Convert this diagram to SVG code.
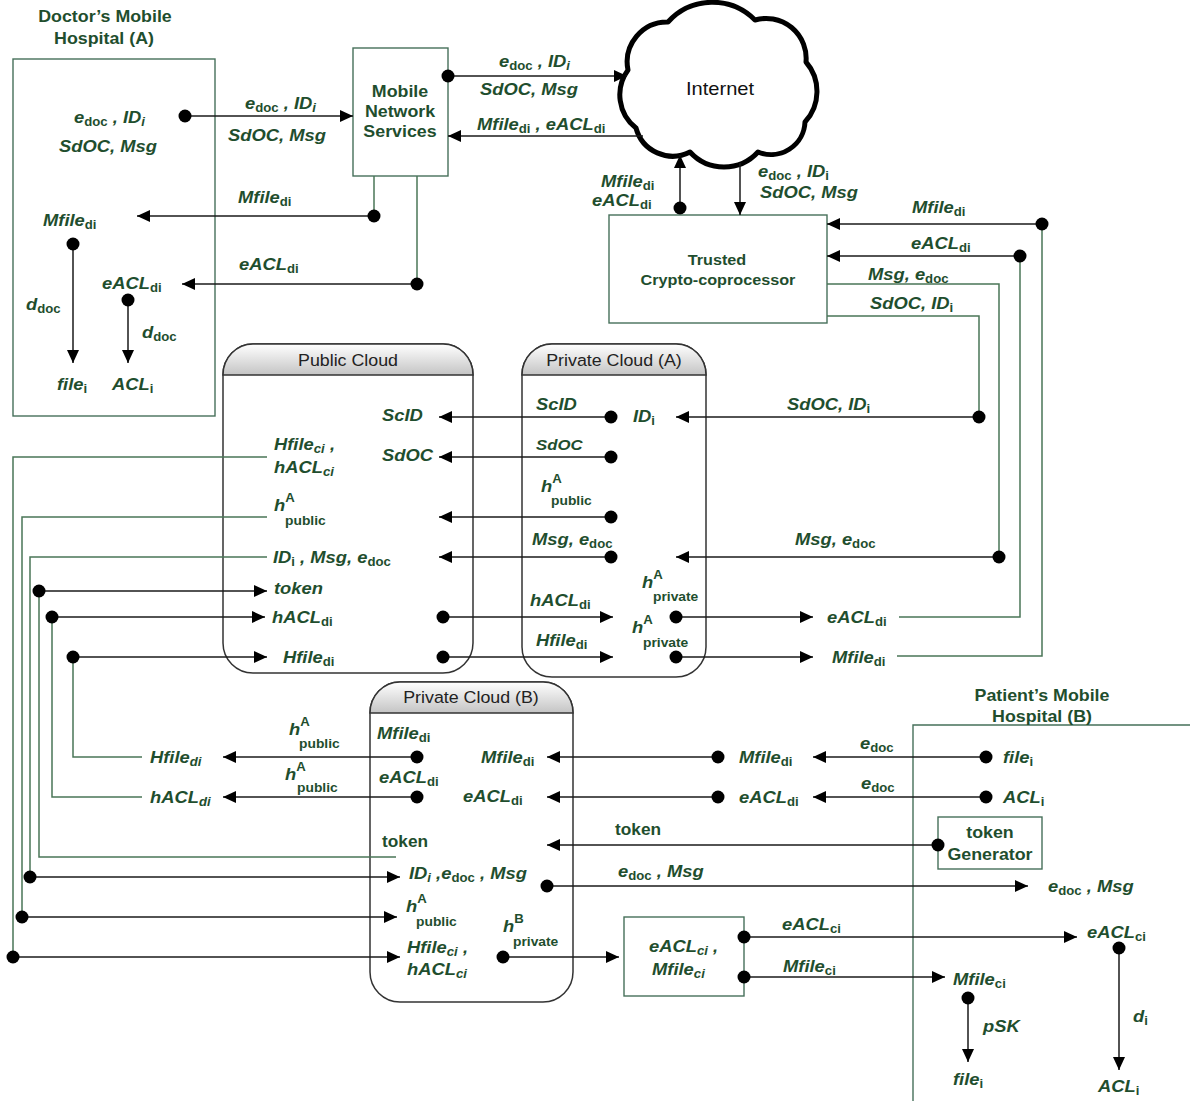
<svg xmlns="http://www.w3.org/2000/svg" width="1190" height="1101" viewBox="0 0 1190 1101">
  <style>
    .bx { fill: #ffffff; stroke: #46705a; stroke-width: 1.4; }
    .cl { fill: #ffffff; stroke: #333333; stroke-width: 1.5; }
    .ar { fill: none; stroke: #1a1a1a; stroke-width: 1.5; marker-end: url(#ah); }
    .ln { fill: none; stroke: #1a1a1a; stroke-width: 1.5; }
    .gr { fill: none; stroke: #4a7657; stroke-width: 1.5; }
    .dot { fill: #000000; }
    .lb { font-family: "Liberation Sans", Arial, Helvetica, sans-serif; font-weight: bold; font-style: italic; font-size: 17px; fill: #1f4e2e; }
    .up { font-style: normal; }
    .sb { font-size: 12.2px; font-style: normal; }
    .sbi { font-size: 12.2px; font-style: italic; }
    .sm { font-size: 12.8px; font-style: normal; }
    .ttl { font-family: "Liberation Sans", Arial, Helvetica, sans-serif; font-weight: bold; font-size: 16.5px; fill: #1f4e2e; text-anchor: middle; }
    .hdr { font-family: "Liberation Sans", Arial, Helvetica, sans-serif; font-size: 16.5px; fill: #222222; text-anchor: middle; }
    .net { font-family: "Liberation Sans", Arial, Helvetica, sans-serif; font-size: 18.6px; fill: #111111; text-anchor: middle; }
  </style>
  <defs>
    <marker id="ah" markerUnits="userSpaceOnUse" markerWidth="14" markerHeight="12" refX="13" refY="6" orient="auto">
      <path d="M0,0 L13,6 L0,12 Z" fill="#000000"/>
    </marker>
    <linearGradient id="hg" x1="0" y1="0" x2="0" y2="1">
      <stop offset="0" stop-color="#ffffff"/>
      <stop offset="1" stop-color="#c4c4c4"/>
    </linearGradient>
  </defs>

  <!-- nodes -->
  <g id="doctor-hospital">
    <rect class="bx" x="13" y="59" width="202" height="357"/>
    <text class="ttl" transform="matrix(1.08 0 0 1 105 22)">Doctor’s Mobile</text>
    <text class="ttl" transform="matrix(1.08 0 0 1 104 44)">Hospital (A)</text>
  </g>
  <g id="mobile-network">
    <rect class="bx" x="353" y="48" width="95" height="128"/>
    <text class="ttl" transform="matrix(1.08 0 0 1 400 97)">Mobile</text>
    <text class="ttl" transform="matrix(1.08 0 0 1 400 117)">Network</text>
    <text class="ttl" transform="matrix(1.08 0 0 1 400 137)">Services</text>
  </g>
  <g id="internet">
    <path d="M636,128 A42,42 0 0 1 628,70 A40,40 0 0 1 668,22 A60,60 0 0 1 755,20 A40,40 0 0 1 806,62 A45,45 0 0 1 805,122 A34,34 0 0 1 758,152 A46,46 0 0 1 690,152 A38,38 0 0 1 636,128 Z" fill="#ffffff" stroke="#000000" stroke-width="5" stroke-linejoin="round"/>
    <text class="net" transform="matrix(1.08 0 0 1 720 95)">Internet</text>
  </g>
  <g id="trusted-coprocessor">
    <rect class="bx" x="609" y="215" width="218" height="108"/>
    <text class="ttl" transform="matrix(1.08 0 0 1 717 265)" style="font-size:15px">Trusted</text>
    <text class="ttl" transform="matrix(1.08 0 0 1 718 285)" style="font-size:15px">Crypto-coprocessor</text>
  </g>
  <g id="public-cloud">
    <path class="cl" d="M223,375 A30,31 0 0 1 253,344 H443 A30,31 0 0 1 473,375 V643 A30,30 0 0 1 443,673 H253 A30,30 0 0 1 223,643 Z"/>
    <path class="cl" style="fill:url(#hg)" d="M223,375 A30,31 0 0 1 253,344 H443 A30,31 0 0 1 473,375 Z"/>
    <text class="hdr" transform="matrix(1.08 0 0 1 348 366)">Public Cloud</text>
  </g>
  <g id="private-cloud-a">
    <path class="cl" d="M522,375 A30,31 0 0 1 552,344 H676 A30,31 0 0 1 706,375 V647 A30,30 0 0 1 676,677 H552 A30,30 0 0 1 522,647 Z"/>
    <path class="cl" style="fill:url(#hg)" d="M522,375 A30,31 0 0 1 552,344 H676 A30,31 0 0 1 706,375 Z"/>
    <text class="hdr" transform="matrix(1.08 0 0 1 614 366)">Private Cloud (A)</text>
  </g>
  <g id="private-cloud-b">
    <path class="cl" d="M370,713 A30,31 0 0 1 400,682 H543 A30,31 0 0 1 573,713 V972 A30,30 0 0 1 543,1002 H400 A30,30 0 0 1 370,972 Z"/>
    <path class="cl" style="fill:url(#hg)" d="M370,713 A30,31 0 0 1 400,682 H543 A30,31 0 0 1 573,713 Z"/>
    <text class="hdr" transform="matrix(1.08 0 0 1 471 703)">Private Cloud (B)</text>
  </g>
  <g id="result-box">
    <rect class="bx" x="624" y="917" width="120" height="79"/>
  </g>
  <g id="patient-hospital">
    <path class="bx" style="fill:none" d="M1190,725 H913 V1101"/>
    <text class="ttl" transform="matrix(1.08 0 0 1 1042 701)">Patient’s Mobile</text>
    <text class="ttl" transform="matrix(1.08 0 0 1 1042 722)">Hospital (B)</text>
  </g>
  <g id="token-generator">
    <rect class="bx" x="938" y="817" width="104" height="52"/>
    <text class="ttl" transform="matrix(1.08 0 0 1 990 838)">token</text>
    <text class="ttl" transform="matrix(1.08 0 0 1 990 860)">Generator</text>
  </g>

  <!-- connectors -->
  <g id="connectors">
    <!-- doctor side -->
    <line class="ar" x1="185" y1="116" x2="353" y2="116"/>
    <line class="ar" x1="448" y1="76" x2="627" y2="76"/>
    <line class="ar" x1="643" y1="136" x2="448" y2="136"/>
    <line class="gr" x1="374" y1="176" x2="374" y2="216"/>
    <line class="ar" x1="374" y1="216" x2="137" y2="216"/>
    <line class="gr" x1="417" y1="176" x2="417" y2="284"/>
    <line class="ar" x1="417" y1="284" x2="182" y2="284"/>
    <line class="ar" x1="73" y1="244" x2="73" y2="363"/>
    <line class="ar" x1="128" y1="300" x2="128" y2="363"/>
    <!-- internet and coprocessor -->
    <line class="ar" x1="680" y1="208" x2="680" y2="155"/>
    <line class="ar" x1="740" y1="163" x2="740" y2="215"/>
    <line class="ar" x1="1042" y1="224" x2="827" y2="224"/>
    <polyline class="gr" points="1042,224 1042,656 897,656"/>
    <line class="ar" x1="1020" y1="256" x2="827" y2="256"/>
    <polyline class="gr" points="1020,256 1020,617 899,617"/>
    <polyline class="gr" points="827,284 999,284 999,557"/>
    <line class="ar" x1="999" y1="557" x2="676" y2="557"/>
    <polyline class="gr" points="827,316 979,316 979,417"/>
    <line class="ar" x1="979" y1="417" x2="676" y2="417"/>
    <!-- private cloud A to public cloud -->
    <line class="ar" x1="611" y1="417" x2="439" y2="417"/>
    <line class="ar" x1="611" y1="457" x2="439" y2="457"/>
    <line class="ar" x1="611" y1="517" x2="439" y2="517"/>
    <line class="ar" x1="611" y1="557" x2="439" y2="557"/>
    <line class="ar" x1="443" y1="617" x2="613" y2="617"/>
    <line class="ar" x1="443" y1="657" x2="613" y2="657"/>
    <line class="ar" x1="676" y1="617" x2="813" y2="617"/>
    <line class="ar" x1="676" y1="657" x2="813" y2="657"/>
    <!-- left bus -->
    <polyline class="gr" points="267,457 13,457 13,957"/>
    <line class="ar" x1="13" y1="957" x2="400" y2="957"/>
    <polyline class="gr" points="267,517 22,517 22,917"/>
    <line class="ar" x1="22" y1="917" x2="397" y2="917"/>
    <polyline class="gr" points="267,557 30,557 30,877"/>
    <line class="ar" x1="30" y1="877" x2="400" y2="877"/>
    <line class="ar" x1="39" y1="591" x2="267" y2="591"/>
    <polyline class="gr" points="39,591 39,857 396,857"/>
    <line class="ar" x1="52" y1="617" x2="265" y2="617"/>
    <polyline class="gr" points="52,617 52,797 142,797"/>
    <line class="ar" x1="73" y1="657" x2="267" y2="657"/>
    <polyline class="gr" points="73,657 73,757 142,757"/>
    <!-- private cloud B and patient side -->
    <line class="ar" x1="417" y1="757" x2="223" y2="757"/>
    <line class="ar" x1="417" y1="797" x2="223" y2="797"/>
    <line class="ar" x1="718" y1="757" x2="547" y2="757"/>
    <line class="ar" x1="718" y1="797" x2="547" y2="797"/>
    <line class="ar" x1="986" y1="757" x2="813" y2="757"/>
    <line class="ar" x1="986" y1="797" x2="813" y2="797"/>
    <line class="ar" x1="938" y1="845" x2="547" y2="845"/>
    <line class="ar" x1="547" y1="886" x2="1028" y2="886"/>
    <line class="ar" x1="503" y1="957" x2="619" y2="957"/>
    <line class="ar" x1="744" y1="937" x2="1077" y2="937"/>
    <line class="ar" x1="744" y1="977" x2="945" y2="977"/>
    <line class="ar" x1="1119" y1="948" x2="1119" y2="1070"/>
    <line class="ar" x1="968" y1="998" x2="968" y2="1062"/>
    <!-- junction dots -->
    <circle class="dot" cx="185" cy="116" r="6.5"/>
    <circle class="dot" cx="448" cy="76" r="6.5"/>
    <circle class="dot" cx="374" cy="216" r="6.5"/>
    <circle class="dot" cx="417" cy="284" r="6.5"/>
    <circle class="dot" cx="73" cy="244" r="6.5"/>
    <circle class="dot" cx="128" cy="300" r="6.5"/>
    <circle class="dot" cx="680" cy="208" r="6.5"/>
    <circle class="dot" cx="1042" cy="224" r="6.5"/>
    <circle class="dot" cx="1020" cy="256" r="6.5"/>
    <circle class="dot" cx="999" cy="557" r="6.5"/>
    <circle class="dot" cx="979" cy="417" r="6.5"/>
    <circle class="dot" cx="611" cy="417" r="6.5"/>
    <circle class="dot" cx="611" cy="457" r="6.5"/>
    <circle class="dot" cx="611" cy="517" r="6.5"/>
    <circle class="dot" cx="611" cy="557" r="6.5"/>
    <circle class="dot" cx="443" cy="617" r="6.5"/>
    <circle class="dot" cx="443" cy="657" r="6.5"/>
    <circle class="dot" cx="676" cy="617" r="6.5"/>
    <circle class="dot" cx="676" cy="657" r="6.5"/>
    <circle class="dot" cx="13" cy="957" r="6.5"/>
    <circle class="dot" cx="22" cy="917" r="6.5"/>
    <circle class="dot" cx="30" cy="877" r="6.5"/>
    <circle class="dot" cx="39" cy="591" r="6.5"/>
    <circle class="dot" cx="52" cy="617" r="6.5"/>
    <circle class="dot" cx="73" cy="657" r="6.5"/>
    <circle class="dot" cx="417" cy="757" r="6.5"/>
    <circle class="dot" cx="417" cy="797" r="6.5"/>
    <circle class="dot" cx="718" cy="757" r="6.5"/>
    <circle class="dot" cx="718" cy="797" r="6.5"/>
    <circle class="dot" cx="986" cy="757" r="6.5"/>
    <circle class="dot" cx="986" cy="797" r="6.5"/>
    <circle class="dot" cx="938" cy="845" r="6.5"/>
    <circle class="dot" cx="547" cy="886" r="6.5"/>
    <circle class="dot" cx="503" cy="957" r="6.5"/>
    <circle class="dot" cx="744" cy="937" r="6.5"/>
    <circle class="dot" cx="744" cy="977" r="6.5"/>
    <circle class="dot" cx="1119" cy="948" r="6.5"/>
    <circle class="dot" cx="968" cy="998" r="6.5"/>
  </g>

  <!-- labels -->
  <g id="labels">
    <!-- doctor box -->
    <text class="lb" transform="matrix(1.08 0 0 1 74 123)">e<tspan class="sb" dy="3">doc</tspan><tspan dy="-3"> , ID</tspan><tspan class="sbi" dy="3">i</tspan></text>
    <text class="lb" transform="matrix(1.08 0 0 1 59 152)">SdOC, Msg</text>
    <text class="lb" transform="matrix(1.08 0 0 1 43 226)">Mfile<tspan class="sb" dy="3">di</tspan></text>
    <text class="lb" transform="matrix(1.08 0 0 1 102 289)">eACL<tspan class="sb" dy="3">di</tspan></text>
    <text class="lb" transform="matrix(1.08 0 0 1 26 310)">d<tspan class="sb" dy="3">doc</tspan></text>
    <text class="lb" transform="matrix(1.08 0 0 1 142 338)">d<tspan class="sb" dy="3">doc</tspan></text>
    <text class="lb" transform="matrix(1.08 0 0 1 57 390)">file<tspan class="sb" dy="3">i</tspan></text>
    <text class="lb" transform="matrix(1.08 0 0 1 112 390)">ACL<tspan class="sb" dy="3">i</tspan></text>
    <!-- doctor to network -->
    <text class="lb" transform="matrix(1.08 0 0 1 245 109)">e<tspan class="sb" dy="3">doc</tspan><tspan dy="-3"> , ID</tspan><tspan class="sbi" dy="3">i</tspan></text>
    <text class="lb" transform="matrix(1.08 0 0 1 228 141)">SdOC, Msg</text>
    <text class="lb" transform="matrix(1.08 0 0 1 238 203)">Mfile<tspan class="sb" dy="3">di</tspan></text>
    <text class="lb" transform="matrix(1.08 0 0 1 239 270)">eACL<tspan class="sb" dy="3">di</tspan></text>
    <!-- network to internet -->
    <text class="lb" transform="matrix(1.08 0 0 1 499 67)">e<tspan class="sb" dy="3">doc</tspan><tspan dy="-3"> , ID</tspan><tspan class="sbi" dy="3">i</tspan></text>
    <text class="lb" transform="matrix(1.08 0 0 1 480 95)">SdOC, Msg</text>
    <text class="lb" transform="matrix(1.08 0 0 1 477 130)">Mfile<tspan class="sb" dy="3">di</tspan><tspan dy="-3">  , eACL</tspan><tspan class="sb" dy="3">di</tspan></text>
    <!-- internet to coprocessor -->
    <text class="lb" transform="matrix(1.08 0 0 1 601 187)">Mfile<tspan class="sb" dy="3">di</tspan></text>
    <text class="lb" transform="matrix(1.08 0 0 1 592 206)">eACL<tspan class="sb" dy="3">di</tspan></text>
    <text class="lb" transform="matrix(1.08 0 0 1 758 177)">e<tspan class="sb" dy="3">doc</tspan><tspan dy="-3"> , ID</tspan><tspan class="sb" dy="3">i</tspan></text>
    <text class="lb" transform="matrix(1.08 0 0 1 760 198)">SdOC, Msg</text>
    <!-- coprocessor right side -->
    <text class="lb" transform="matrix(1.08 0 0 1 912 213)">Mfile<tspan class="sb" dy="3">di</tspan></text>
    <text class="lb" transform="matrix(1.08 0 0 1 911 249)">eACL<tspan class="sb" dy="3">di</tspan></text>
    <text class="lb" transform="matrix(1.08 0 0 1 868 280)">Msg, e<tspan class="sb" dy="3">doc</tspan></text>
    <text class="lb" transform="matrix(1.08 0 0 1 870 309)">SdOC, ID<tspan class="sb" dy="3">i</tspan></text>
    <!-- public cloud -->
    <text class="lb" transform="matrix(1.08 0 0 1 382 421)">ScID</text>
    <text class="lb" transform="matrix(1.08 0 0 1 382 461)">SdOC</text>
    <text class="lb" transform="matrix(1.08 0 0 1 274 450)">Hfile<tspan class="sbi" dy="3">ci</tspan><tspan dy="-3"> ,</tspan></text>
    <text class="lb" transform="matrix(1.08 0 0 1 274 473)">hACL<tspan class="sbi" dy="3">ci</tspan></text>
    <text class="lb" transform="matrix(1.08 0 0 1 274 511)">h<tspan class="sb" dy="-9">A</tspan></text>
    <text class="lb sm" transform="matrix(1.08 0 0 1 285 525)">public</text>
    <text class="lb" transform="matrix(1.08 0 0 1 273 563)">ID<tspan class="sb" dy="3">i</tspan><tspan dy="-3"> , Msg, e</tspan><tspan class="sb" dy="3">doc</tspan></text>
    <text class="lb" transform="matrix(1.08 0 0 1 274 594)">token</text>
    <text class="lb" transform="matrix(1.08 0 0 1 272 623)">hACL<tspan class="sb" dy="3">di</tspan></text>
    <text class="lb" transform="matrix(1.08 0 0 1 283 663)">Hfile<tspan class="sb" dy="3">di</tspan></text>
    <!-- private cloud A -->
    <text class="lb" transform="matrix(1.08 0 0 1 536 410)">ScID</text>
    <text class="lb" transform="matrix(1.08 0 0 1 633 422)">ID<tspan class="sb" dy="3">i</tspan></text>
    <text class="lb" transform="matrix(1.08 0 0 1 536 450)" style="font-size:15.5px">SdOC</text>
    <text class="lb" transform="matrix(1.08 0 0 1 541 492)">h<tspan class="sb" dy="-9">A</tspan></text>
    <text class="lb sm" transform="matrix(1.08 0 0 1 551 505)">public</text>
    <text class="lb" transform="matrix(1.08 0 0 1 532 545)">Msg, e<tspan class="sb" dy="3">doc</tspan></text>
    <text class="lb" transform="matrix(1.08 0 0 1 642 588)">h<tspan class="sb" dy="-9">A</tspan></text>
    <text class="lb sm" transform="matrix(1.08 0 0 1 653 601)">private</text>
    <text class="lb" transform="matrix(1.08 0 0 1 530 606)">hACL<tspan class="sb" dy="3">di</tspan></text>
    <text class="lb" transform="matrix(1.08 0 0 1 632 633)">h<tspan class="sb" dy="-9">A</tspan></text>
    <text class="lb sm" transform="matrix(1.08 0 0 1 643 647)">private</text>
    <text class="lb" transform="matrix(1.08 0 0 1 536 646)">Hfile<tspan class="sb" dy="3">di</tspan></text>
    <!-- right of private cloud A -->
    <text class="lb" transform="matrix(1.08 0 0 1 787 410)">SdOC, ID<tspan class="sb" dy="3">i</tspan></text>
    <text class="lb" transform="matrix(1.08 0 0 1 795 545)">Msg, e<tspan class="sb" dy="3">doc</tspan></text>
    <text class="lb" transform="matrix(1.08 0 0 1 827 623)">eACL<tspan class="sb" dy="3">di</tspan></text>
    <text class="lb" transform="matrix(1.08 0 0 1 832 663)">Mfile<tspan class="sb" dy="3">di</tspan></text>
    <!-- lower left -->
    <text class="lb" transform="matrix(1.08 0 0 1 289 735)">h<tspan class="sb" dy="-9">A</tspan></text>
    <text class="lb sm" transform="matrix(1.08 0 0 1 299 748)">public</text>
    <text class="lb" transform="matrix(1.08 0 0 1 150 763)">Hfile<tspan class="sbi" dy="3">di</tspan></text>
    <text class="lb" transform="matrix(1.08 0 0 1 285 780)">h<tspan class="sb" dy="-9">A</tspan></text>
    <text class="lb sm" transform="matrix(1.08 0 0 1 297 792)">public</text>
    <text class="lb" transform="matrix(1.08 0 0 1 150 803)">hACL<tspan class="sbi" dy="3">di</tspan></text>
    <!-- private cloud B -->
    <text class="lb" transform="matrix(1.08 0 0 1 377 739)">Mfile<tspan class="sb" dy="3">di</tspan></text>
    <text class="lb" transform="matrix(1.08 0 0 1 379 783)">eACL<tspan class="sb" dy="3">di</tspan></text>
    <text class="lb" transform="matrix(1.08 0 0 1 481 763)">Mfile<tspan class="sb" dy="3">di</tspan></text>
    <text class="lb" transform="matrix(1.08 0 0 1 463 802)">eACL<tspan class="sb" dy="3">di</tspan></text>
    <text class="lb up" transform="matrix(1.08 0 0 1 382 847)" style="font-size:16px">token</text>
    <text class="lb" transform="matrix(1.08 0 0 1 409 879)">ID<tspan class="sbi" dy="3">i</tspan><tspan dy="-3"> ,e</tspan><tspan class="sb" dy="3">doc</tspan><tspan dy="-3"> , Msg</tspan></text>
    <text class="lb" transform="matrix(1.08 0 0 1 406 912)">h<tspan class="sb" dy="-9">A</tspan></text>
    <text class="lb sm" transform="matrix(1.08 0 0 1 416 926)">public</text>
    <text class="lb" transform="matrix(1.08 0 0 1 503 932)">h<tspan class="sb" dy="-9">B</tspan></text>
    <text class="lb sm" transform="matrix(1.08 0 0 1 513 946)">private</text>
    <text class="lb" transform="matrix(1.08 0 0 1 407 953)">Hfile<tspan class="sbi" dy="3">ci</tspan><tspan dy="-3"> ,</tspan></text>
    <text class="lb" transform="matrix(1.08 0 0 1 407 975)">hACL<tspan class="sbi" dy="3">ci</tspan></text>
    <!-- middle bottom -->
    <text class="lb" transform="matrix(1.08 0 0 1 739 763)">Mfile<tspan class="sb" dy="3">di</tspan></text>
    <text class="lb" transform="matrix(1.08 0 0 1 739 803)">eACL<tspan class="sb" dy="3">di</tspan></text>
    <text class="lb" transform="matrix(1.08 0 0 1 860 749)">e<tspan class="sb" dy="3">doc</tspan></text>
    <text class="lb" transform="matrix(1.08 0 0 1 861 789)">e<tspan class="sb" dy="3">doc</tspan></text>
    <text class="lb up" transform="matrix(1.08 0 0 1 615 835)" style="font-size:16px">token</text>
    <text class="lb" transform="matrix(1.08 0 0 1 618 877)">e<tspan class="sb" dy="3">doc</tspan><tspan dy="-3"> , Msg</tspan></text>
    <text class="lb" transform="matrix(1.08 0 0 1 649 952)">eACL<tspan class="sbi" dy="3">ci</tspan><tspan dy="-3"> ,</tspan></text>
    <text class="lb" transform="matrix(1.08 0 0 1 652 975)">Mfile<tspan class="sbi" dy="3">ci</tspan></text>
    <text class="lb" transform="matrix(1.08 0 0 1 782 930)">eACL<tspan class="sb" dy="3">ci</tspan></text>
    <text class="lb" transform="matrix(1.08 0 0 1 783 972)">Mfile<tspan class="sb" dy="3">ci</tspan></text>
    <!-- patient side -->
    <text class="lb" transform="matrix(1.08 0 0 1 1003 763)">file<tspan class="sb" dy="3">i</tspan></text>
    <text class="lb" transform="matrix(1.08 0 0 1 1003 803)">ACL<tspan class="sb" dy="3">i</tspan></text>
    <text class="lb" transform="matrix(1.08 0 0 1 1048 892)">e<tspan class="sb" dy="3">doc</tspan><tspan dy="-3"> , Msg</tspan></text>
    <text class="lb" transform="matrix(1.08 0 0 1 1087 938)">eACL<tspan class="sb" dy="3">ci</tspan></text>
    <text class="lb" transform="matrix(1.08 0 0 1 953 985)">Mfile<tspan class="sb" dy="3">ci</tspan></text>
    <text class="lb" transform="matrix(1.08 0 0 1 983 1032)">pSK</text>
    <text class="lb" transform="matrix(1.08 0 0 1 953 1085)">file<tspan class="sb" dy="3">i</tspan></text>
    <text class="lb" transform="matrix(1.08 0 0 1 1133 1022)">d<tspan class="sb" dy="3">i</tspan></text>
    <text class="lb" transform="matrix(1.08 0 0 1 1098 1092)">ACL<tspan class="sb" dy="3">i</tspan></text>
  </g>
</svg>
